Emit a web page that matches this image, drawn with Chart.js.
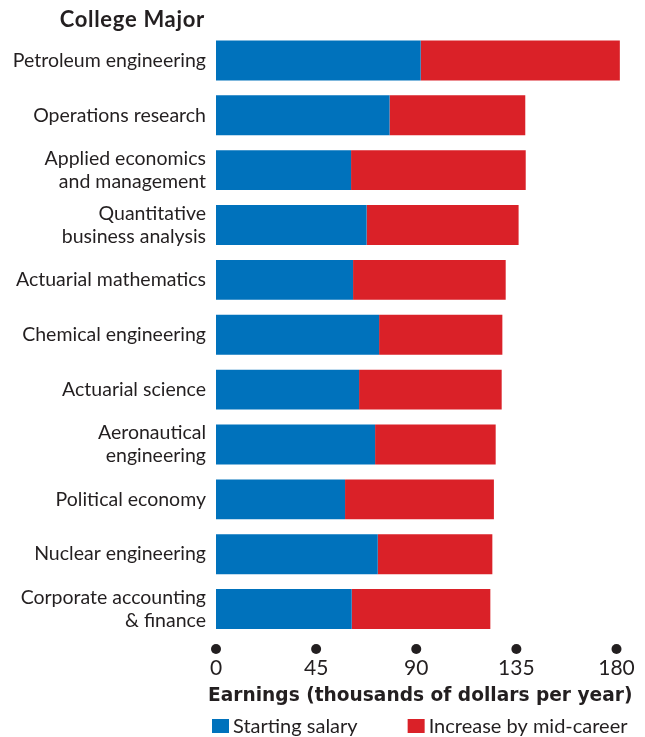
<!DOCTYPE html>
<html>
<head>
<meta charset="utf-8">
<script src="https://cdn.jsdelivr.net/npm/chart.js@4.4.1/dist/chart.umd.min.js"></script>
<style>
  html, body { margin: 0; padding: 0; background: #fff; }
  #wrap { width: 645px; height: 737px; }
</style>
</head>
<body>
<div id="wrap"><canvas id="chart-area" width="645" height="737"></canvas></div>
<script>
var majors = [
    "Petroleum engineering",
    "Operations research",
    ["Applied economics", "and management"],
    ["Quantitative", "business analysis"],
    "Actuarial mathematics",
    "Chemical engineering",
    "Actuarial science",
    ["Aeronautical", "engineering"],
    "Political economy",
    "Nuclear engineering",
    ["Corporate accounting", "& finance"]
];
// thousands of dollars per year
var startingSalary = [92, 78, 60.7, 67.7, 61.6, 73.3, 64.3, 71.5, 58, 72.7, 61];
var midCareerIncrease = [89.5, 61, 78.5, 68.3, 68.6, 55.4, 64.1, 54.2, 66.9, 51.5, 62.3];
var xTicks = [0, 45, 90, 135, 180];
var xTitle = "Earnings (thousands of dollars per year)";

var textColor = "#231f20";
var fontFamily = "Lato, 'Open Sans', sans-serif";

// round markers under each x tick
var tickDots = {
    id: "tickDots",
    afterDraw: function(chart) {
        var ctx = chart.ctx, xs = chart.scales.x;
        ctx.save();
        ctx.fillStyle = textColor;
        xs.ticks.forEach(function(t) {
            ctx.beginPath();
            ctx.arc(xs.getPixelForValue(t.value), chart.chartArea.bottom + 12.5, 5, 0, Math.PI * 2);
            ctx.fill();
        });
        ctx.restore();
    }
};

// heading over the category labels, x title (wider than the plot, so not the
// scale's own title which gets squeezed) and the legend row at the bottom
var extras = {
    id: "extras",
    afterDraw: function(chart) {
        var ctx = chart.ctx, ys = chart.scales.y, area = chart.chartArea;
        ctx.save();
        ctx.fillStyle = textColor;
        ctx.font = "bold 22px " + fontFamily;
        ctx.letterSpacing = "0.7px";
        ctx.textAlign = "right";
        ctx.textBaseline = "alphabetic";
        ctx.fillText("College Major", ys.right - 11, 27);
        ctx.letterSpacing = "0px";

        ctx.font = "bold 18.6px 'DejaVu Sans', sans-serif";
        ctx.textAlign = "center";
        ctx.fillText(xTitle, (area.left + area.right) / 2 + 4, 701);

        ctx.font = "20px " + fontFamily;
        ctx.textAlign = "left";
        var x = area.left - 4, y = 719;
        chart.data.datasets.forEach(function(ds) {
            ctx.fillStyle = ds.backgroundColor;
            ctx.fillRect(x, y, 17, 14);
            ctx.fillStyle = textColor;
            ctx.fillText(ds.label, x + 21, y + 14);
            x += 21 + ctx.measureText(ds.label).width + 50;
        });
        ctx.restore();
    }
};

var ctx = document.getElementById("chart-area").getContext("2d");
var myChart = new Chart(ctx, {
    type: "bar",
    data: {
        labels: majors,
        datasets: [
            {
                label: "Starting salary",
                data: startingSalary,
                backgroundColor: "#0072bc",
                categoryPercentage: 1,
                barPercentage: 40 / 55,
                clip: false
            },
            {
                label: "Increase by mid-career",
                data: midCareerIncrease,
                backgroundColor: "#da2128",
                categoryPercentage: 1,
                barPercentage: 40 / 55,
                clip: false
            }
        ]
    },
    options: {
        indexAxis: "y",
        responsive: false,
        animation: false,
        layout: { padding: { top: 31.5, left: 0, right: 28.5, bottom: 29.5 } },
        plugins: {
            legend: { display: false },
            tooltip: { enabled: false }
        },
        scales: {
            x: {
                stacked: true,
                min: 0,
                max: 180,
                afterBuildTicks: function(s) {
                    s.ticks = xTicks.map(function(v) { return { value: v }; });
                },
                grid: { display: false, drawTicks: false },
                border: { display: false },
                ticks: {
                    padding: 19,
                    color: textColor,
                    font: { family: fontFamily, size: 21 }
                },
                afterFit: function(s) {
                    s.height = 71;
                    // labels at the ends may hang past the plot edge
                    s.paddingLeft = 0;
                    s.paddingRight = 0;
                }
            },
            y: {
                stacked: true,
                grid: { display: false, drawTicks: false },
                border: { display: false },
                ticks: {
                    padding: 10,
                    color: textColor,
                    font: { family: fontFamily, size: 19.5, lineHeight: 1.18 }
                },
                afterFit: function(s) { s.width = 216; }
            }
        }
    },
    plugins: [tickDots, extras]
});
</script>
</body>
</html>
